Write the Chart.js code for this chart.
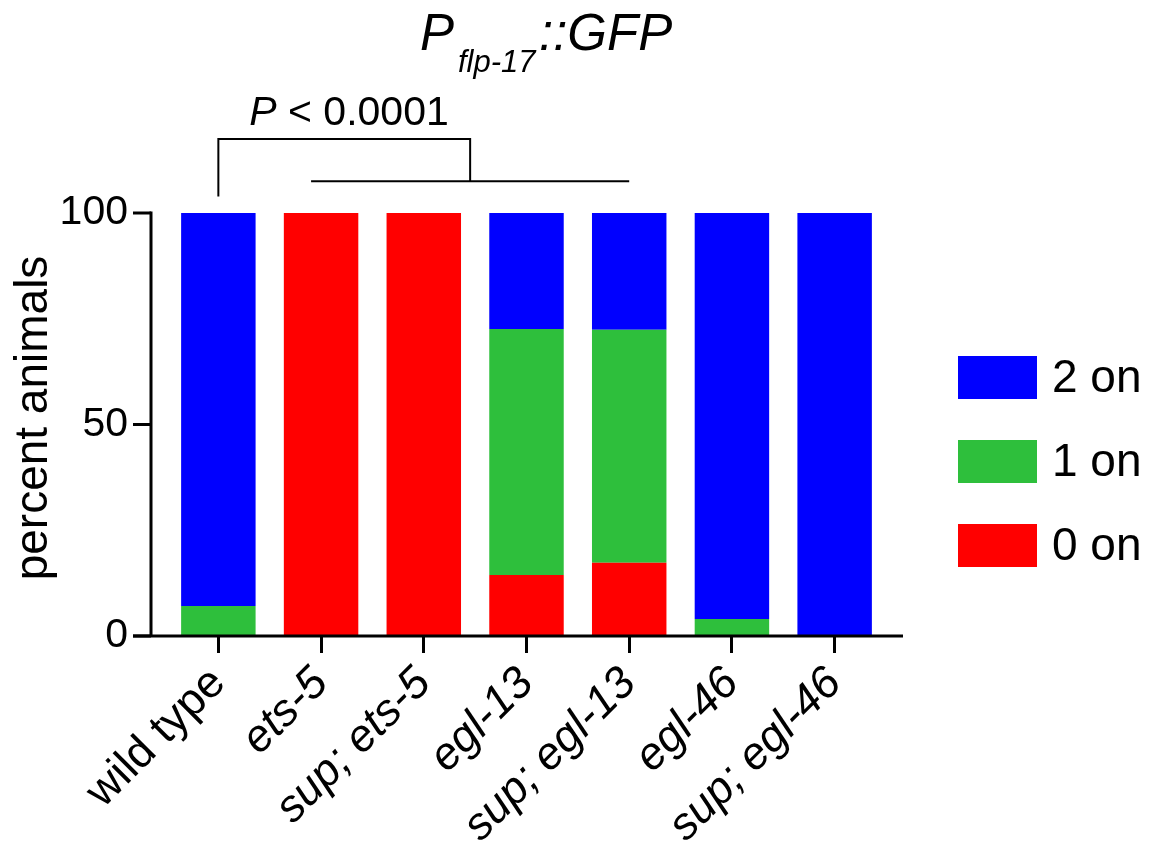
<!DOCTYPE html>
<html>
<head>
<meta charset="utf-8">
<script src="https://cdn.jsdelivr.net/npm/chart.js@4"></script>
<style>
  html, body { margin: 0; padding: 0; background: #fff; }
  #wrap { width: 1150px; height: 849px; }
</style>
</head>
<body>
<div id="wrap"><canvas id="chart" width="1150" height="849"></canvas></div>
<script>
// Categorías y datos (porcentaje de animales)
const categories = ['wild type', 'ets-5', 'sup; ets-5', 'egl-13', 'sup; egl-13', 'egl-46', 'sup; egl-46'];
const zeroOn = [0, 100, 100, 14.4, 17.3, 0, 0];
const oneOn = [7.1, 0, 0, 58.2, 55.1, 4.0, 0];
const twoOn = [92.9, 0, 0, 27.4, 27.6, 96.0, 100];
const yTicks = [0, 50, 100];

const FONT = '"Liberation Sans", Arial, Helvetica, sans-serif';
const colores = { zero: '#ff0000', one: '#2ebf3c', two: '#0000ff' };

// Ejes, título, leyenda y valor P
const extras = {
    id: 'extras',
    afterDraw(chart) {
        const { ctx, chartArea, scales } = chart;
        const x = scales.x, y = scales.y;
        const y0 = y.getPixelForValue(0);
        const yTop = y.getPixelForValue(100);
        const axisX = chartArea.left - 16;

        ctx.save();
        ctx.strokeStyle = '#000';
        ctx.lineWidth = 3;
        // eje y
        ctx.beginPath();
        ctx.moveTo(axisX, yTop - 1.5);
        ctx.lineTo(axisX, y0);
        ctx.stroke();
        // marcas del eje y
        yTicks.forEach(v => {
            const py = y.getPixelForValue(v);
            ctx.beginPath();
            ctx.moveTo(axisX - 18, py);
            ctx.lineTo(axisX, py);
            ctx.stroke();
        });
        // eje x
        ctx.beginPath();
        ctx.moveTo(axisX - 18, y0);
        ctx.lineTo(chartArea.right + 17, y0);
        ctx.stroke();

        // título del eje y
        ctx.fillStyle = '#000';
        ctx.font = '46px ' + FONT;
        ctx.textAlign = 'center';
        ctx.textBaseline = 'middle';
        ctx.translate(34, 418);
        ctx.rotate(-Math.PI / 2);
        ctx.fillText('percent animals', 0, 0);
        ctx.restore();

        // título
        ctx.save();
        ctx.fillStyle = '#000';
        ctx.textBaseline = 'alphabetic';
        ctx.textAlign = 'left';
        ctx.font = 'italic 51px ' + FONT;
        ctx.fillText('P', 420, 50);
        ctx.font = 'italic 31px ' + FONT;
        ctx.fillText('flp-17', 458, 72);
        ctx.font = 'italic 51px ' + FONT;
        ctx.fillText('::GFP', 539, 50);

        // corchete del valor P
        const xa = x.getPixelForValue(0);
        const xb = x.getPixelForValue(1) - 10;
        const xc = x.getPixelForValue(4);
        const xm = (xb + xc) / 2;
        const yHi = y.getPixelForValue(117.5);
        const yLo = y.getPixelForValue(103.9);
        const yBar = y.getPixelForValue(107.5);
        ctx.strokeStyle = '#000';
        ctx.lineWidth = 2;
        ctx.beginPath();
        ctx.moveTo(xa, yLo);
        ctx.lineTo(xa, yHi);
        ctx.lineTo(xm, yHi);
        ctx.lineTo(xm, yBar);
        ctx.stroke();
        ctx.beginPath();
        ctx.moveTo(xb, yBar);
        ctx.lineTo(xc, yBar);
        ctx.stroke();

        ctx.font = 'italic 41px ' + FONT;
        const wP = ctx.measureText('P').width;
        ctx.font = '41px ' + FONT;
        const wR = ctx.measureText(' < 0.0001').width;
        const startX = 349 - (wP + wR) / 2;
        ctx.font = 'italic 41px ' + FONT;
        ctx.fillText('P', startX, 125);
        ctx.font = '41px ' + FONT;
        ctx.fillText(' < 0.0001', startX + wP, 125);

        // leyenda
        const items = [
            { label: '2 on', color: colores.two, y: 356 },
            { label: '1 on', color: colores.one, y: 440 },
            { label: '0 on', color: colores.zero, y: 524 }
        ];
        ctx.font = '46px ' + FONT;
        ctx.textBaseline = 'middle';
        items.forEach(it => {
            ctx.fillStyle = it.color;
            ctx.fillRect(958, it.y, 79, 43);
            ctx.fillStyle = '#000';
            ctx.fillText(it.label, 1052, it.y + 23);
        });
        ctx.restore();
    }
};

const chart = new Chart(document.getElementById('chart'), {
    type: 'bar',
    data: {
        labels: categories,
        datasets: [
            { label: '0 on', data: zeroOn, backgroundColor: colores.zero },
            { label: '1 on', data: oneOn, backgroundColor: colores.one },
            { label: '2 on', data: twoOn, backgroundColor: colores.two }
        ]
    },
    options: {
        responsive: false,
        animation: false,
        layout: { padding: { top: 213, right: 264, left: 0, bottom: 0 } },
        datasets: { bar: { categoryPercentage: 1, barPercentage: 0.725 } },
        plugins: {
            legend: { display: false },
            tooltip: { enabled: false },
            title: { display: false }
        },
        scales: {
            x: {
                stacked: true,
                afterFit: s => { s.height = 213; },
                border: { display: false },
                grid: {
                    offset: false,
                    drawOnChartArea: false,
                    drawTicks: true,
                    tickLength: 17,
                    tickWidth: 3,
                    tickColor: '#000'
                },
                ticks: {
                    color: '#000',
                    minRotation: 45,
                    maxRotation: 45,
                    autoSkip: false,
                    padding: 4,
                    font: c => ({ family: FONT, size: 45, style: c.index === 0 ? 'normal' : 'italic' })
                }
            },
            y: {
                stacked: true,
                min: 0,
                max: 100,
                afterFit: s => { s.width = 167; },
                afterBuildTicks: s => { s.ticks = yTicks.map(v => ({ value: v })); },
                border: { display: false },
                grid: { display: false, drawTicks: false },
                ticks: {
                    color: '#000',
                    padding: 39,
                    font: { family: FONT, size: 41 }
                }
            }
        }
    },
    plugins: [extras]
});
</script>
</body>
</html>
